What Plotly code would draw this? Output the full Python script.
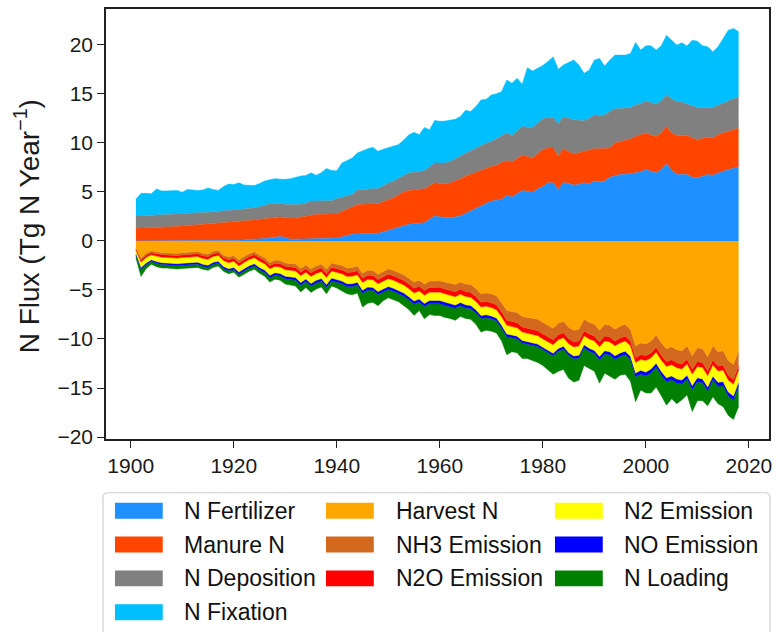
import plotly.graph_objects as go

years = list(range(1901, 2019))

# Positive fluxes (Tg N / yr), stacked upward
n_fertilizer = [
    0.0, 0.0, 0.0, 0.0, 0.0, 0.01, 0.01, 0.01, 0.01, 0.02,
    0.02, 0.02, 0.03, 0.03, 0.03, 0.04, 0.04, 0.05, 0.06, 0.07,
    0.08, 0.1, 0.12, 0.15, 0.2, 0.25, 0.3, 0.38, 0.44, 0.35,
    0.17, 0.18, 0.2, 0.22, 0.25, 0.27, 0.3, 0.28, 0.27, 0.3,
    0.41, 0.55, 0.68, 0.7, 0.72, 0.74, 0.76, 0.78, 0.9, 1.05,
    1.19, 1.35, 1.55, 1.7, 1.75, 1.8, 1.86, 2.2, 2.54, 2.45,
    2.4, 2.37, 2.45, 2.54, 2.8, 3.05, 3.3, 3.55, 3.8, 4.06,
    4.15, 4.23, 4.64, 4.47, 4.8, 5.15, 5.05, 4.97, 5.3, 5.55,
    5.92, 5.92, 5.25, 5.95, 5.85, 5.69, 5.75, 5.92, 5.82, 6.09,
    6.05, 6.09, 6.5, 6.65, 6.77, 6.8, 6.85, 6.94, 7.05, 7.27,
    7.1, 6.94, 7.27, 7.85, 7.2, 6.77, 6.8, 6.77, 6.5, 6.43,
    6.6, 6.77, 6.7, 6.94, 7.1, 7.27, 7.4, 7.54]
manure_n = [
    1.29, 1.3, 1.32, 1.35, 1.38, 1.39, 1.41, 1.44, 1.47, 1.48,
    1.53, 1.58, 1.63, 1.67, 1.7, 1.73, 1.78, 1.81, 1.84, 1.88,
    1.92, 1.93, 1.96, 1.98, 2.0, 2.03, 2.04, 2.02, 2.0, 2.03,
    2.13, 2.17, 2.22, 2.28, 2.35, 2.44, 2.42, 2.42, 2.44, 2.45,
    2.59, 2.65, 2.77, 3.02, 3.04, 3.04, 3.03, 3.01, 3.1, 3.2,
    3.21, 3.35, 3.45, 3.45, 3.45, 3.45, 3.45, 3.4, 3.38, 3.4,
    3.42, 3.53, 3.65, 3.79, 3.8, 3.75, 3.74, 3.7, 3.65, 3.54,
    3.57, 3.77, 3.55, 3.55, 3.6, 3.58, 3.55, 3.49, 3.6, 3.75,
    3.56, 3.56, 3.38, 3.45, 3.25, 3.18, 3.25, 3.22, 3.43, 3.32,
    3.35, 3.36, 2.98, 3.33, 3.33, 3.45, 3.55, 3.72, 3.75, 3.73,
    3.7, 3.72, 3.73, 3.83, 3.8, 3.99, 3.96, 3.99, 4.0, 3.89,
    3.85, 3.79, 3.79, 3.89, 3.9, 3.88, 3.95, 3.96]
n_deposition = [
    1.25, 1.28, 1.28, 1.27, 1.27, 1.28, 1.28, 1.27, 1.27, 1.28,
    1.25, 1.23, 1.2, 1.2, 1.2, 1.2, 1.18, 1.19, 1.2, 1.2,
    1.2, 1.22, 1.22, 1.25, 1.28, 1.32, 1.46, 1.43, 1.36, 1.37,
    1.42, 1.37, 1.33, 1.35, 1.46, 1.37, 1.38, 1.36, 1.39, 1.55,
    1.45, 1.4, 1.29, 1.48, 1.49, 1.52, 1.53, 1.56, 1.6, 1.65,
    1.69, 1.7, 1.7, 1.79, 1.8, 1.8, 1.86, 1.9, 2.03, 2.1,
    2.13, 2.2, 2.3, 2.4, 2.35, 2.4, 2.43, 2.45, 2.5, 2.55,
    2.67, 2.7, 2.81, 2.74, 2.8, 2.95, 3.0, 3.12, 3.1, 3.15,
    3.07, 3.11, 3.32, 3.25, 3.4, 3.48, 3.3, 3.11, 3.25, 3.45,
    3.4, 3.41, 3.72, 3.49, 3.4, 3.3, 3.2, 3.21, 3.2, 3.28,
    3.3, 3.28, 3.3, 3.21, 3.5, 3.45, 3.39, 3.18, 3.25, 3.28,
    3.15, 3.04, 3.11, 2.97, 3.04, 3.15, 3.15, 3.15]
n_fixation = [
    1.71, 2.27, 2.25, 2.18, 2.65, 2.42, 2.4, 2.38, 2.4, 2.19,
    2.45, 2.37, 2.29, 2.3, 2.47, 2.28, 2.15, 2.5, 2.7, 2.6,
    2.72, 2.45, 2.38, 2.27, 2.37, 2.5, 2.45, 2.52, 2.5, 2.53,
    2.63, 2.78, 2.87, 2.82, 2.88, 2.62, 2.85, 3.32, 3.07, 2.85,
    3.5, 3.6, 3.72, 3.77, 3.95, 4.1, 4.23, 3.79, 3.75, 3.6,
    3.56, 3.42, 3.6, 3.89, 4.07, 3.78, 4.4, 3.84, 4.33, 4.25,
    4.27, 4.2, 4.0, 3.96, 4.38, 4.0, 4.23, 4.68, 4.5, 4.74,
    4.61, 4.53, 5.41, 5.31, 5.38, 4.29, 6.06, 5.75, 5.6, 5.45,
    5.75, 6.19, 5.55, 5.3, 5.7, 6.09, 5.63, 4.84, 4.92, 5.58,
    5.81, 4.97, 5.24, 5.48, 5.45, 5.4, 5.52, 6.37, 5.46, 5.62,
    5.8, 5.52, 5.6, 6.09, 5.97, 5.76, 6.05, 5.93, 6.72, 6.77,
    6.3, 6.2, 5.69, 6.0, 6.6, 7.19, 7.16, 6.67]

# Outgoing fluxes (Tg N / yr, magnitudes), stacked downward
harvest_n = [
    0.7, 1.75, 1.25, 1.0, 1.1, 1.2, 1.22, 1.24, 1.26, 1.2,
    1.17, 1.12, 1.08, 1.26, 1.35, 1.05, 0.95, 1.45, 1.65, 1.5,
    1.95, 1.6, 1.3, 1.1, 1.45, 1.7, 2.2, 1.95, 2.0, 2.25,
    2.3, 2.35, 2.8, 2.45, 2.85, 2.55, 2.35, 2.9, 2.25, 2.4,
    2.5, 2.75, 2.7, 2.55, 3.3, 3.0, 3.0, 3.4, 3.1, 2.85,
    3.0, 3.2, 3.45, 3.8, 4.2, 4.0, 4.4, 4.1, 4.05, 4.05,
    4.2, 4.3, 4.45, 4.2, 4.4, 4.45, 4.85, 5.4, 5.3, 5.4,
    5.6, 6.3, 7.1, 7.2, 7.3, 7.7, 7.8, 7.9, 8.0, 8.3,
    8.6, 8.9, 8.4, 8.2, 8.8, 9.1, 9.0, 8.0, 8.3, 8.5,
    9.1, 8.5, 8.6, 9.0, 8.7, 8.5, 9.0, 10.7, 10.4, 10.5,
    10.2, 9.6, 10.4, 11.0, 10.8, 11.1, 11.2, 10.7, 11.7, 10.9,
    11.0, 11.8, 10.7, 11.3, 11.2, 12.2, 12.6, 11.2]
nh3_emission = [
    0.12, 0.2, 0.2, 0.2, 0.21, 0.21, 0.22, 0.22, 0.23, 0.23,
    0.23, 0.24, 0.24, 0.25, 0.25, 0.25, 0.26, 0.26, 0.27, 0.28,
    0.29, 0.29, 0.29, 0.3, 0.3, 0.31, 0.32, 0.32, 0.33, 0.34,
    0.35, 0.36, 0.38, 0.38, 0.4, 0.4, 0.41, 0.43, 0.43, 0.45,
    0.46, 0.47, 0.48, 0.48, 0.5, 0.5, 0.52, 0.53, 0.54, 0.55,
    0.56, 0.57, 0.58, 0.6, 0.62, 0.62, 0.64, 0.65, 0.66, 0.68,
    0.7, 0.72, 0.74, 0.74, 0.77, 0.8, 0.82, 0.85, 0.87, 0.9,
    0.92, 0.95, 1.0, 1.02, 1.05, 1.08, 1.1, 1.12, 1.15, 1.18,
    1.18, 1.18, 1.18, 1.17, 1.18, 1.19, 1.2, 1.18, 1.19, 1.2,
    1.2, 1.2, 1.2, 1.2, 1.2, 1.2, 1.2, 1.2, 1.2, 1.19,
    1.22, 1.25, 1.27, 1.3, 1.32, 1.33, 1.35, 1.36, 1.38, 1.4,
    1.42, 1.44, 1.45, 1.46, 1.48, 1.5, 1.52, 1.5]
n2o_emission = [
    0.12, 0.22, 0.24, 0.22, 0.24, 0.25, 0.25, 0.26, 0.26, 0.27,
    0.27, 0.27, 0.27, 0.28, 0.28, 0.28, 0.28, 0.29, 0.3, 0.3,
    0.31, 0.31, 0.31, 0.31, 0.32, 0.32, 0.33, 0.33, 0.33, 0.34,
    0.34, 0.35, 0.36, 0.36, 0.37, 0.37, 0.38, 0.39, 0.39, 0.4,
    0.4, 0.41, 0.42, 0.42, 0.43, 0.43, 0.44, 0.44, 0.45, 0.45,
    0.46, 0.46, 0.47, 0.47, 0.48, 0.48, 0.49, 0.49, 0.5, 0.5,
    0.5, 0.5, 0.5, 0.5, 0.5, 0.5, 0.5, 0.5, 0.5, 0.5,
    0.5, 0.5, 0.51, 0.51, 0.51, 0.51, 0.51, 0.51, 0.51, 0.51,
    0.51, 0.51, 0.51, 0.5, 0.51, 0.52, 0.52, 0.5, 0.5, 0.5,
    0.5, 0.5, 0.5, 0.5, 0.5, 0.5, 0.5, 0.5, 0.5, 0.5,
    0.5, 0.5, 0.5, 0.5, 0.5, 0.5, 0.5, 0.5, 0.5, 0.5,
    0.5, 0.5, 0.5, 0.5, 0.5, 0.5, 0.5, 0.5]
n2_emission = [
    0.35, 0.55, 0.55, 0.5, 0.55, 0.56, 0.56, 0.57, 0.57, 0.58,
    0.58, 0.58, 0.58, 0.59, 0.6, 0.6, 0.58, 0.6, 0.61, 0.62,
    0.63, 0.63, 0.62, 0.62, 0.63, 0.64, 0.66, 0.65, 0.66, 0.67,
    0.68, 0.68, 0.7, 0.69, 0.71, 0.7, 0.7, 0.73, 0.72, 0.73,
    0.74, 0.75, 0.76, 0.76, 0.8, 0.78, 0.78, 0.8, 0.79, 0.8,
    0.8, 0.81, 0.81, 0.82, 0.83, 0.82, 0.84, 0.83, 0.84, 0.84,
    0.84, 0.84, 0.85, 0.84, 0.84, 0.84, 0.85, 0.86, 0.85, 0.85,
    0.85, 0.86, 0.88, 0.86, 0.86, 0.86, 0.86, 0.86, 0.86, 0.85,
    0.86, 0.87, 0.88, 0.88, 0.9, 0.92, 0.93, 0.92, 0.95, 0.97,
    0.98, 1.0, 1.0, 1.02, 1.03, 1.04, 1.05, 1.08, 1.1, 1.19,
    1.15, 1.12, 1.14, 1.16, 1.15, 1.15, 1.14, 1.13, 1.16, 1.15,
    1.15, 1.16, 1.14, 1.16, 1.17, 1.2, 1.2, 1.18]
no_emission = [
    0.12, 0.2, 0.18, 0.16, 0.18, 0.19, 0.19, 0.2, 0.2, 0.2,
    0.2, 0.2, 0.2, 0.21, 0.21, 0.21, 0.21, 0.22, 0.22, 0.23,
    0.23, 0.23, 0.23, 0.23, 0.24, 0.24, 0.25, 0.25, 0.26, 0.27,
    0.27, 0.27, 0.27, 0.27, 0.28, 0.28, 0.28, 0.28, 0.28, 0.28,
    0.28, 0.29, 0.29, 0.29, 0.3, 0.3, 0.3, 0.3, 0.3, 0.3,
    0.31, 0.31, 0.31, 0.32, 0.32, 0.32, 0.33, 0.33, 0.34, 0.34,
    0.34, 0.34, 0.33, 0.33, 0.32, 0.32, 0.32, 0.31, 0.31, 0.3,
    0.3, 0.3, 0.29, 0.28, 0.27, 0.26, 0.25, 0.25, 0.25, 0.24,
    0.25, 0.26, 0.27, 0.27, 0.28, 0.29, 0.3, 0.3, 0.31, 0.32,
    0.33, 0.33, 0.34, 0.35, 0.35, 0.36, 0.37, 0.38, 0.39, 0.4,
    0.4, 0.4, 0.4, 0.4, 0.4, 0.4, 0.4, 0.4, 0.4, 0.4,
    0.4, 0.4, 0.4, 0.41, 0.41, 0.42, 0.42, 0.42]
n_loading = [
    0.3, 0.7, 0.4, 0.3, 0.35, 0.34, 0.33, 0.34, 0.35, 0.34,
    0.35, 0.34, 0.33, 0.31, 0.31, 0.31, 0.27, 0.28, 0.3, 0.27,
    0.29, 0.34, 0.35, 0.34, 0.36, 0.39, 0.44, 0.4, 0.42, 0.53,
    0.56, 0.59, 0.69, 0.6, 0.64, 0.6, 0.58, 0.67, 0.53, 0.54,
    0.72, 0.73, 0.85, 0.8, 1.42, 1.34, 1.21, 1.13, 0.92, 0.85,
    0.87, 0.85, 0.98, 0.99, 1.15, 0.86, 1.25, 1.1, 1.21, 1.19,
    1.22, 1.2, 1.23, 1.09, 1.07, 1.09, 1.16, 1.38, 1.27, 1.25,
    1.23, 1.29, 1.82, 1.43, 1.41, 1.59, 1.48, 1.56, 1.63, 1.62,
    1.8, 1.88, 2.06, 2.08, 2.33, 2.38, 2.25, 1.8, 1.75, 1.81,
    2.39, 1.97, 2.16, 2.03, 1.92, 2.0, 2.18, 2.54, 1.61, 1.72,
    2.03, 2.03, 2.09, 2.39, 1.93, 2.12, 1.61, 1.61, 2.26, 1.95,
    1.83, 1.5, 1.71, 1.77, 2.14, 1.98, 1.96, 2.1]

pos_series = [
    ("N Fertilizer", n_fertilizer, "#1E90FF"),
    ("Manure N", manure_n, "#FF4500"),
    ("N Deposition", n_deposition, "#808080"),
    ("N Fixation", n_fixation, "#00BFFF"),
]
neg_series = [
    ("Harvest N", harvest_n, "#FFA500"),
    ("NH3 Emission", nh3_emission, "#D2691E"),
    ("N2O Emission", n2o_emission, "#FF0000"),
    ("N2 Emission", n2_emission, "#FFFF00"),
    ("NO Emission", no_emission, "#0000FF"),
    ("N Loading", n_loading, "#008000"),
]

x_ticks = [1900, 1920, 1940, 1960, 1980, 2000, 2020]
y_ticks = [-20, -15, -10, -5, 0, 5, 10, 15, 20]
y_tick_text = ["\u221220", "\u221215", "\u221210", "\u22125", "0", "5", "10", "15", "20"]

fig = go.Figure()
for name, vals, col in pos_series:
    fig.add_trace(go.Scatter(
        x=years, y=vals, name=name, stackgroup="pos", mode="lines",
        line=dict(width=0.5, color=col), fillcolor=col, showlegend=False))
for name, vals, col in neg_series:
    fig.add_trace(go.Scatter(
        x=years, y=[-v for v in vals], name=name, stackgroup="neg", mode="lines",
        line=dict(width=0.5, color=col), fillcolor=col, showlegend=False))

W, H = 779, 632
ML, MR, MT, MB = 106, 7, 7, 193
pw, ph = W - ML - MR, H - MT - MB

def px(xp):
    return (xp - ML) / pw

def py(yp):
    return (H - MB - yp) / ph

font_family = "Liberation Sans, Arial, sans-serif"
axis_common = dict(
    showline=True, mirror=True, linecolor="#222222", linewidth=1.6,
    ticks="outside", ticklen=7, tickwidth=1.4, tickcolor="#222222",
    showgrid=False, zeroline=False,
    tickfont=dict(family=font_family, size=21, color="#1a1a1a"),
)

fig.update_layout(
    width=W, height=H,
    margin=dict(l=ML, r=MR, t=MT, b=MB, pad=0),
    paper_bgcolor="white", plot_bgcolor="white",
    showlegend=False,
    xaxis=dict(range=[1895.2, 2023.9], tickvals=x_ticks, **axis_common),
    yaxis=dict(range=[-20.2, 23.65], tickvals=y_ticks, ticktext=y_tick_text, **axis_common),
)

# y-axis title
fig.add_annotation(
    text="N Flux (Tg N Year<sup>\u22121</sup>)", textangle=-90,
    xref="paper", yref="paper", x=px(27), y=py(225),
    xanchor="center", yanchor="middle", showarrow=False,
    font=dict(family=font_family, size=28, color="#1a1a1a"))

# legend box (manual, 3 columns)
x0, x1 = px(103), px(773)
yt, yb = py(493), py(660)
dx, dy = 5 / pw, 5 / ph
fig.add_shape(
    type="path", xref="paper", yref="paper",
    path=(f"M {x0},{yb} L {x0},{yt - dy} Q {x0},{yt} {x0 + dx},{yt} "
          f"L {x1 - dx},{yt} Q {x1},{yt} {x1},{yt - dy} L {x1},{yb}"),
    line=dict(color="#cfcfcf", width=1.2), fillcolor="rgba(0,0,0,0)")

legend_order = [
    [pos_series[0], pos_series[1], pos_series[2], pos_series[3]],
    [neg_series[0], neg_series[1], neg_series[2]],
    [neg_series[3], neg_series[4], neg_series[5]],
]
col_patch_x = [115, 327, 557]
col_text_x = [182, 395, 624]
row_y = [511, 545, 579, 613]
for ci, col_items in enumerate(legend_order):
    for ri, (name, _, colr) in enumerate(col_items):
        cy = row_y[ri]
        fig.add_shape(
            type="rect", xref="paper", yref="paper",
            x0=px(col_patch_x[ci]), x1=px(col_patch_x[ci] + 48),
            y0=py(cy + 8), y1=py(cy - 8),
            line=dict(width=0), fillcolor=colr)
        fig.add_annotation(
            text=name, xref="paper", yref="paper",
            x=px(col_text_x[ci]), y=py(cy), xanchor="left", yanchor="middle",
            showarrow=False,
            font=dict(family=font_family, size=23, color="#111111"))

fig.write_html("out.html")
